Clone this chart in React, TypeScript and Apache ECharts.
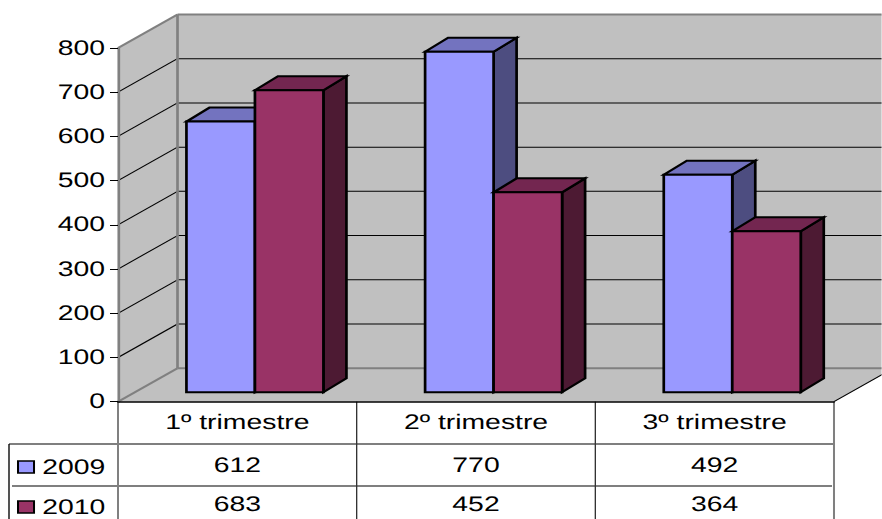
import React, { useEffect, useRef } from "react";
import * as echarts from "echarts";

const categories = ["1º trimestre", "2º trimestre", "3º trimestre"];
const seriesNames = ["2009", "2010"];
const values2009 = [612, 770, 492];
const values2010 = [683, 452, 364];
const gridValues = [100, 200, 300, 400, 500, 600, 700, 800];

// The reference text and lines are stretched horizontally: the whole chart is drawn narrower, then widened.
const SX = 1.35;
const W = 882;
const H = 519;
const X = (px: number) => px / SX;

const FONT = "'Liberation Sans', Arial, sans-serif";
const WALL = "#C0C0C0";
const EDGE = "#808080";

const DEPTH_X = X(59.5);
const DEPTH_Y = -33.5;
const BAR_OFF_X = X(17.6);
const BAR_OFF_Y = -9.5;
const SIDE_X = X(23);
const SIDE_Y = -14;
const BAR_FRACTION = 0.287;
const ROW_LINES = [444, 486];
const ROW_TEXT = [465, 504];
const LEGEND_TOPS = [456.5, 496.5];

const poly = (points: number[][], fill: string, stroke: string, lineWidth: number) => ({
  type: "polygon",
  shape: { points },
  style: { fill, stroke, lineWidth, lineJoin: "miter" },
  silent: true,
});
const line = (x1: number, y1: number, x2: number, y2: number, stroke: string, lineWidth: number) => ({
  type: "line",
  shape: { x1, y1, x2, y2 },
  style: { stroke, lineWidth },
  silent: true,
});

function renderWalls(params: any, api: any) {
  const cs = params.coordSys;
  const left = cs.x;
  const right = cs.x + cs.width;
  const top = api.coord([0, 800])[1];
  const bottom = api.coord([0, 0])[1];
  const backX = left + DEPTH_X;
  const children: any[] = [
    poly([[backX, top + DEPTH_Y], [X(W) + 10, top + DEPTH_Y], [X(W) + 10, bottom + DEPTH_Y], [backX, bottom + DEPTH_Y]], WALL, "none", 0),
    poly([[left, top], [backX, top + DEPTH_Y], [backX, bottom + DEPTH_Y], [left, bottom]], WALL, "none", 0),
    poly([[left, bottom], [backX, bottom + DEPTH_Y], [right + DEPTH_X, bottom + DEPTH_Y], [right, bottom]], WALL, "none", 0),
  ];
  gridValues.slice(0, -1).forEach((v) => {
    const y = api.coord([0, v])[1];
    children.push(line(left, y, backX, y + DEPTH_Y, "#000", 1));
    children.push(line(backX, y + DEPTH_Y, X(W) + 10, y + DEPTH_Y, "#000", 1));
  });
  children.push(line(backX, top + DEPTH_Y, X(W) + 10, top + DEPTH_Y, EDGE, 2));
  children.push(line(backX, bottom + DEPTH_Y, X(W) + 10, bottom + DEPTH_Y, EDGE, 2));
  children.push(line(backX, top + DEPTH_Y, backX, bottom + DEPTH_Y, EDGE, 2));
  children.push(line(left, top, backX, top + DEPTH_Y, EDGE, 2));
  children.push(line(left, bottom, backX, bottom + DEPTH_Y, EDGE, 2));
  children.push(line(right, bottom, right + DEPTH_X, bottom + DEPTH_Y, "#000", 1));
  return { type: "group", children };
}

const makeBarRenderer = (seriesPos: number, front: string, topColor: string, side: string) => (params: any, api: any) => {
  const idx = api.value(0);
  const val = api.value(1);
  const band = api.size([1, 0])[0];
  const w = band * BAR_FRACTION;
  const centre = api.coord([idx, 0])[0] + BAR_OFF_X;
  const x0 = centre + (seriesPos === 0 ? -w : 0);
  const x1 = x0 + w;
  const yB = api.coord([idx, 0])[1] + BAR_OFF_Y;
  const yT = api.coord([idx, val])[1] + BAR_OFF_Y;
  return {
    type: "group",
    children: [
      poly([[x1, yT], [x1 + SIDE_X, yT + SIDE_Y], [x1 + SIDE_X, yB + SIDE_Y], [x1, yB]], side, "#000", 2),
      poly([[x0, yT], [x0 + SIDE_X, yT + SIDE_Y], [x1 + SIDE_X, yT + SIDE_Y], [x1, yT]], topColor, "#000", 2),
      poly([[x0, yT], [x1, yT], [x1, yB], [x0, yB]], front, "#000", 2),
    ],
  };
};

function renderTable(params: any, api: any) {
  const cs = params.coordSys;
  const left = cs.x;
  const right = cs.x + cs.width;
  const yTop = api.coord([0, 0])[1];
  const band = cs.width / categories.length;
  const children: any[] = [
    line(X(9), ROW_LINES[0], right, ROW_LINES[0], "#000", 1),
    line(X(12), ROW_LINES[1], right - X(2), ROW_LINES[1], "#000", 1),
    line(X(9), ROW_LINES[0], X(9), H + 2, "#000", 1),
    line(left, yTop, left, H + 2, EDGE, 1.5),
    line(right, yTop, right, H + 2, EDGE, 1.5),
  ];
  for (let i = 1; i < categories.length; i++) {
    children.push(line(left + band * i, yTop, left + band * i, H + 2, "#333", 1));
  }
  [values2009, values2010].forEach((vals, r) => {
    vals.forEach((v, i) => {
      children.push({
        type: "text",
        x: api.coord([i, 0])[0],
        y: ROW_TEXT[r],
        silent: true,
        style: { text: String(v), fill: "#000", font: `21px ${FONT}`, textAlign: "center", textVerticalAlign: "middle" },
      });
    });
  });
  return { type: "group", children };
}

const legendFor = (name: string, top: number) => ({
  data: [name],
  orient: "vertical",
  left: X(12),
  top,
  padding: [0, X(5)],
  icon: "rect",
  itemWidth: X(16),
  itemHeight: 12,
  selectedMode: false,
  textStyle: { fontFamily: FONT, fontSize: 21, color: "#000", padding: [0, 0, 0, X(1.5)] },
  itemStyle: { borderColor: "#000", borderWidth: 1.5 },
});

export default function App() {
  const ref = useRef<HTMLDivElement>(null);
  useEffect(() => {
    document.body.style.margin = "0";
    document.body.style.overflow = "hidden";
    const chart = echarts.init(ref.current!, undefined, { renderer: "svg" });
    chart.setOption({
      animation: false,
      backgroundColor: "#fff",
      textStyle: { fontFamily: FONT },
      tooltip: { show: false },
      grid: { left: X(118), width: X(716), top: 48, height: 353.7, containLabel: false },
      legend: seriesNames.map((n, i) => legendFor(n, LEGEND_TOPS[i])),
      xAxis: {
        type: "category",
        data: categories,
        z: 5,
        axisLine: { lineStyle: { color: "#000", width: 1.5 } },
        axisTick: { show: false },
        axisLabel: { fontFamily: FONT, fontSize: 21, color: "#000", margin: 10, interval: 0 },
      },
      yAxis: {
        type: "value",
        min: 0,
        max: 800,
        interval: 100,
        z: 5,
        axisLine: { show: true, lineStyle: { color: EDGE, width: 2 } },
        axisTick: { show: true, length: X(8), lineStyle: { color: "#000", width: 1 } },
        axisLabel: { fontFamily: FONT, fontSize: 21, color: "#000", margin: X(13) },
        splitLine: { show: false },
      },
      series: [
        { type: "custom", name: "walls", data: [[0, 0]], encode: { x: 0, y: 1 }, renderItem: renderWalls, silent: true, z: 1 },
        {
          type: "custom",
          name: seriesNames[0],
          data: values2009.map((v, i) => [i, v]),
          encode: { x: 0, y: 1 },
          itemStyle: { color: "#9999FF" },
          renderItem: makeBarRenderer(0, "#9999FF", "#7373BF", "#4D4D80"),
          z: 2,
        },
        {
          type: "custom",
          name: seriesNames[1],
          data: values2010.map((v, i) => [i, v]),
          encode: { x: 0, y: 1 },
          itemStyle: { color: "#993366" },
          renderItem: makeBarRenderer(1, "#993366", "#732650", "#4D1A33"),
          z: 3,
        },
        { type: "custom", name: "table", data: [[0, 0]], encode: { x: 0, y: 1 }, renderItem: renderTable, silent: true, z: 4 },
      ],
    });
    return () => chart.dispose();
  }, []);
  return (
    <div style={{ width: W, height: H, overflow: "hidden", position: "relative" }}>
      <div
        ref={ref}
        style={{
          width: W / SX,
          height: H,
          transform: `scaleX(${SX})`,
          transformOrigin: "0 0",
          textRendering: "geometricPrecision",
        }}
      />
    </div>
  );
}
